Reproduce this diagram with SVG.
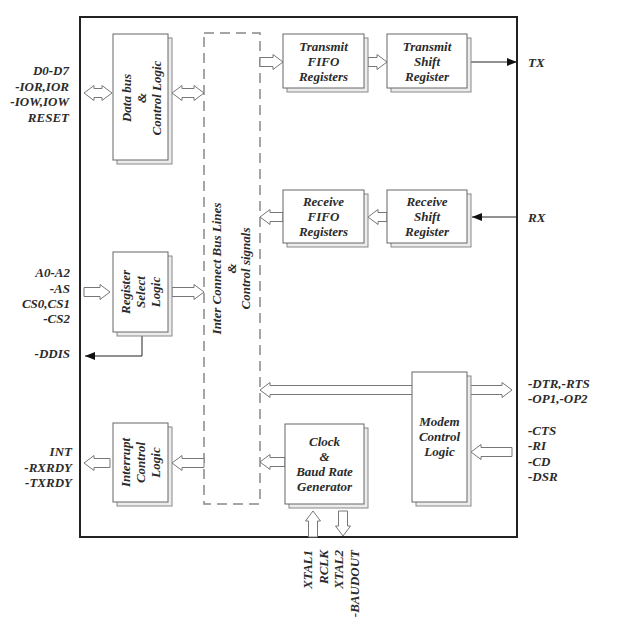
<svg xmlns="http://www.w3.org/2000/svg" width="618" height="631" viewBox="0 0 618 631">
<style>
text{font-family:"Liberation Serif","Times New Roman",serif;font-weight:bold;font-style:italic;font-size:13px;fill:#2b2b2b}
.c{text-anchor:middle}
.e{text-anchor:end}
.box{fill:#fff;stroke:#666;stroke-width:1}
.sh{fill:#ececec;stroke:#888;stroke-width:1}
.ha{fill:#fff;stroke:#777;stroke-width:1}
.ln{fill:none;stroke:#222;stroke-width:1}
</style>
<defs>
<marker id="ah" markerUnits="userSpaceOnUse" markerWidth="10" markerHeight="8" refX="10" refY="4" orient="auto">
<path d="M0,0 L10,4 L0,8 Z" fill="#111"/>
</marker>
</defs>
<rect width="618" height="631" fill="#fff"/>
<rect id="chip" x="80" y="17" width="437" height="520" fill="none" stroke="#222" stroke-width="2"/>

<g id="bus">
<rect x="204" y="33" width="56" height="471" fill="none" stroke="#888" stroke-width="1.5" stroke-dasharray="10 6"/>
<g transform="translate(0,268.5) rotate(-90)">
<text class="c" x="0" y="221">Inter Connect Bus Lines</text>
<text class="c" x="0" y="235.5">&amp;</text>
<text class="c" x="0" y="250">Control signals</text>
</g>
</g>

<g id="connectors">
<path class="ha" d="M84 93 L94 85.5 V88.5 H102 V85.5 L112 93 L102 100.5 V97.5 H94 V100.5 Z"/>
<path class="ha" d="M172 93 L182 85.5 V88.5 H194 V85.5 L204 93 L194 100.5 V97.5 H182 V100.5 Z"/>
<path class="ha" d="M260 57.5 H273 V54.5 L283 62 L273 69.5 V66.5 H260 Z"/>
<path class="ha" d="M368 57.5 H377 V54.5 L387 62 L377 69.5 V66.5 H368 Z"/>
<path class="ha" d="M387 212.5 H378 V209.5 L368 217 L378 224.5 V221.5 H387 Z"/>
<path class="ha" d="M283 212.5 H270 V209.5 L260 217 L270 224.5 V221.5 H283 Z"/>
<path class="ha" d="M84 287.5 H100 V284.5 L110 292 L100 299.5 V296.5 H84 Z"/>
<path class="ha" d="M172 287.5 H194 V284.5 L204 292 L194 299.5 V296.5 H172 Z"/>
<path class="ha" d="M110 458.5 H94 V455.5 L84 463 L94 470.5 V467.5 H110 Z"/>
<path class="ha" d="M204 458.5 H182 V455.5 L172 463 L182 470.5 V467.5 H204 Z"/>
<path class="ha" d="M285 457.5 H270 V454.5 L260 462 L270 469.5 V466.5 H285 Z"/>
<path class="ha" d="M413 385.5 H270 V382.5 L260 390 L270 397.5 V394.5 H413"/>
<path class="ha" d="M470 385.5 H502 V382.5 L512 390 L502 397.5 V394.5 H470"/>
<path class="ha" d="M512 447.5 H481 V444.5 L471 452 L481 459.5 V456.5 H512 Z"/>
<path class="ha" d="M308.5 537 V521 H305.5 L313 511 L320.5 521 H317.5 V537 Z"/>
<path class="ha" d="M338.5 511 V526 H335.5 L343 536 L350.5 526 H347.5 V511 Z"/>
<line class="ln" x1="470" y1="62" x2="517" y2="62" marker-end="url(#ah)"/>
<line class="ln" x1="517" y1="217" x2="472" y2="217" marker-end="url(#ah)"/>
<polyline class="ln" points="142,336 142,356 85,356" marker-end="url(#ah)"/>
</g>

<g id="databus">
<rect class="sh" x="117" y="38" width="55" height="126"/>
<rect class="box" x="113" y="34" width="55" height="126"/>
<g transform="translate(0,98) rotate(-90)">
<text class="c" x="0" y="131">Data bus</text>
<text class="c" x="0" y="146">&amp;</text>
<text class="c" x="0" y="161">Control Logic</text>
</g>
</g>

<g id="regselect">
<rect class="sh" x="117" y="256" width="55" height="80"/>
<rect class="box" x="113" y="252" width="55" height="80"/>
<g transform="translate(0,292) rotate(-90)">
<text class="c" x="0" y="130">Register</text>
<text class="c" x="0" y="145">Select</text>
<text class="c" x="0" y="160">Logic</text>
</g>
</g>

<g id="interrupt">
<rect class="sh" x="117" y="427" width="55" height="79"/>
<rect class="box" x="113" y="423" width="55" height="79"/>
<g transform="translate(0,462.5) rotate(-90)">
<text class="c" x="0" y="130">Interrupt</text>
<text class="c" x="0" y="145">Control</text>
<text class="c" x="0" y="160">Logic</text>
</g>
</g>

<g id="txfifo">
<rect class="sh" x="287" y="38" width="81" height="54"/>
<rect class="box" x="283" y="34" width="81" height="54"/>
<text class="c" x="323.5" y="51">Transmit</text>
<text class="c" x="323.5" y="66">FIFO</text>
<text class="c" x="323.5" y="81">Registers</text>
</g>

<g id="txshift">
<rect class="sh" x="391" y="38" width="80" height="54"/>
<rect class="box" x="387" y="34" width="80" height="54"/>
<text class="c" x="427" y="51">Transmit</text>
<text class="c" x="427" y="66">Shift</text>
<text class="c" x="427" y="81">Register</text>
</g>

<g id="rxfifo">
<rect class="sh" x="287" y="194" width="81" height="53"/>
<rect class="box" x="283" y="190" width="81" height="53"/>
<text class="c" x="323.5" y="206">Receive</text>
<text class="c" x="323.5" y="221">FIFO</text>
<text class="c" x="323.5" y="236">Registers</text>
</g>

<g id="rxshift">
<rect class="sh" x="391" y="194" width="80" height="53"/>
<rect class="box" x="387" y="190" width="80" height="53"/>
<text class="c" x="427" y="206">Receive</text>
<text class="c" x="427" y="221">Shift</text>
<text class="c" x="427" y="236">Register</text>
</g>

<g id="baud">
<rect class="sh" x="289" y="428" width="79" height="80"/>
<rect class="box" x="285" y="424" width="79" height="80"/>
<text class="c" x="324.5" y="446">Clock</text>
<text class="c" x="324.5" y="461">&amp;</text>
<text class="c" x="324.5" y="476">Baud Rate</text>
<text class="c" x="324.5" y="491">Generator</text>
</g>

<g id="modem">
<rect class="sh" x="416" y="376" width="55" height="130"/>
<rect class="box" x="412" y="372" width="55" height="130"/>
<text class="c" x="439.5" y="426">Modem</text>
<text class="c" x="439.5" y="441">Control</text>
<text class="c" x="439.5" y="456">Logic</text>
</g>

<g id="labels">
<text class="e" x="69" y="75">D0-D7</text>
<text class="e" x="69" y="91">-IOR,IOR</text>
<text class="e" x="69" y="106">-IOW,IOW</text>
<text class="e" x="69" y="122">RESET</text>
<text class="e" x="70" y="277">A0-A2</text>
<text class="e" x="70" y="293">-AS</text>
<text class="e" x="70" y="308">CS0,CS1</text>
<text class="e" x="70" y="323">-CS2</text>
<text class="e" x="70" y="358">-DDIS</text>
<text class="e" x="72" y="456">INT</text>
<text class="e" x="72" y="472">-RXRDY</text>
<text class="e" x="72" y="487">-TXRDY</text>
<text x="528" y="66.5">TX</text>
<text x="528" y="221.5">RX</text>
<text x="528" y="387.5">-DTR,-RTS</text>
<text x="528" y="403">-OP1,-OP2</text>
<text x="528" y="435">-CTS</text>
<text x="528" y="450">-RI</text>
<text x="528" y="465.5">-CD</text>
<text x="528" y="481">-DSR</text>
<g transform="translate(0,550) rotate(-90)">
<text class="e" x="0" y="312">XTAL1</text>
<text class="e" x="0" y="327.5">RCLK</text>
<text class="e" x="0" y="343">XTAL2</text>
<text class="e" x="0" y="358.5">-BAUDOUT</text>
</g>
</g>
</svg>
